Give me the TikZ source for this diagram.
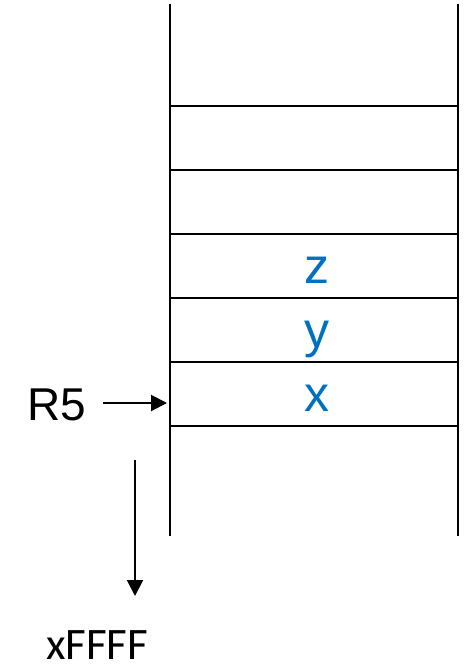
\documentclass[tikz,border=0pt]{standalone}
\usepackage{fontspec}
\setmainfont{Liberation Sans}
\newfontfamily\carl{Carlito}
\usetikzlibrary{arrows.meta}
\definecolor{myblue}{RGB}{0,112,192}
\begin{document}
\begin{tikzpicture}[x=1pt,y=-1pt,
  wall/.style={line width=2pt},
  arr/.style={line width=2pt,-{Triangle[length=16pt,width=16pt]}},
  var/.style={anchor=base,inner sep=0pt,text=myblue,font=\fontsize{50}{50}\selectfont},
  lbl/.style={anchor=base west,inner sep=0pt,font=\fontsize{46}{46}\selectfont}]
\useasboundingbox (0,0) rectangle (469,668);
% walls
\coordinate (lt) at (170,4);
\coordinate (lb) at (170,536);
\coordinate (rt) at (458,4);
\coordinate (rb) at (458,536);
\draw[wall] (lt) -- (lb);
\draw[wall] (rt) -- (rb);
% separators
\foreach \i/\y in {1/106,2/170,3/234,4/298,5/362,6/426}{
  \coordinate (l\i) at (170,\y);
  \coordinate (r\i) at (458,\y);
  \draw[wall] (l\i) -- (r\i);
}
% contents
\node[var] (z) at (317,283) {z};
\node[var] (yv) at (317,347) {y};
\node[var] (xv) at (317,411) {x};
% R5 pointer
\node[lbl] (r5) at (27,420) {R5};
\coordinate (r5s) at (103,403);
\coordinate (r5e) at (167,403);
\draw[arr] (r5s) -- (r5e);
% direction
\node[anchor=base west,inner sep=0pt,font=\carl\fontsize{45}{45}\selectfont] (ff) at (46,659) {xFFFF};
\coordinate (ds) at (135,460);
\coordinate (de) at (135,596);
\draw[arr] (ds) -- (de);
\end{tikzpicture}
\end{document}
